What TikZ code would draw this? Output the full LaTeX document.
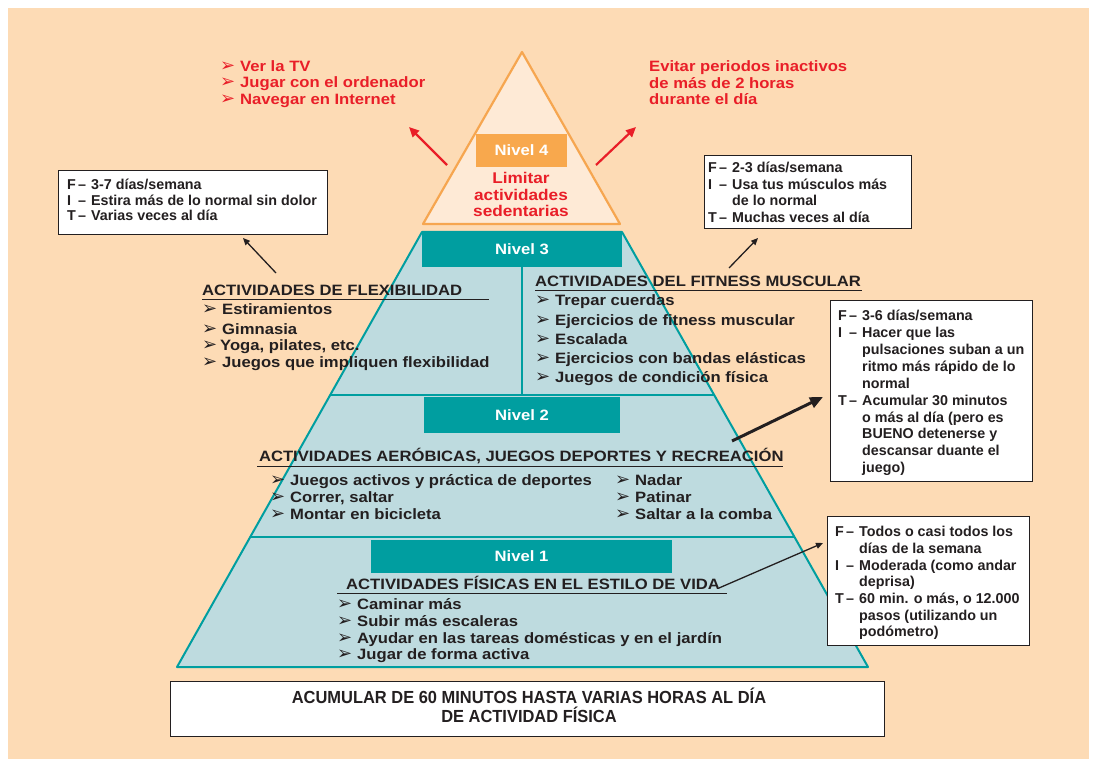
\documentclass[tikz,border=0pt]{standalone}
\usepackage{fontspec}
\setmainfont{Liberation Sans}
\newfontfamily\wideft[FakeStretch=1.11]{Liberation Sans}
\newfontfamily\narrowft[FakeStretch=0.94]{Liberation Sans}
\newfontfamily\symft{DejaVu Sans}
\usetikzlibrary{arrows.meta,calc}
\definecolor{bgpeach}{RGB}{253,219,181}
\definecolor{trifill}{RGB}{254,234,214}
\definecolor{triline}{RGB}{246,166,80}
\definecolor{orangebox}{RGB}{248,168,77}
\definecolor{redc}{RGB}{233,30,40}
\definecolor{tealc}{RGB}{0,158,160}
\definecolor{lblue}{RGB}{190,219,223}
\definecolor{ink}{RGB}{35,31,32}
\newcommand\bulglyph{{\symft\mdseries\fontsize{18}{18}\selectfont ➢}}
\newcommand\bul{\makebox[20pt][l]{\bulglyph}}
\newcommand\fitl[2]{\makebox[11pt][l]{#1}\makebox[13pt][l]{–}#2}
\newcommand\fitc[1]{\hspace*{24pt}#1}
\tikzset{
  lst/.style={anchor=base west, inner sep=0pt, text=ink, font=\wideft\bfseries\fontsize{15}{18}\selectfont},
  redt/.style={lst, text=redc},
  boxt/.style={anchor=base west, inner sep=0pt, text=ink, font=\bfseries\fontsize{14.3}{16}\selectfont},
  infobox/.style={draw=ink, line width=1.2pt, fill=white, inner sep=0pt, anchor=north west},
  nivel/.style={fill=tealc, text=white, inner sep=0pt, font=\wideft\bfseries\fontsize{15}{18}\selectfont},
  uline/.style={draw=ink, line width=0.9pt},
  redarrow/.style={draw=redc, line width=2.2pt, -{Triangle[length=10pt,width=9pt]}},
  blkarrow/.style={draw=ink, line width=1.3pt, -{Triangle[length=7pt,width=6pt]}},
  bigarrow/.style={draw=ink, line width=3pt, -{Triangle[length=13pt,width=11pt]}},
  bandline/.style={draw=tealc, line width=2pt}
}
\begin{document}
\begin{tikzpicture}[x=1pt,y=-1pt]
\useasboundingbox (0,0) rectangle (1097,767);
\fill[white] (0,0) rectangle (1097,767);
\fill[bgpeach] (8,8) rectangle (1089,759);

% ---------- top triangle (Nivel 4)
\coordinate (apex) at (522,52);
\coordinate (tbl) at (423,224);
\coordinate (tbr) at (620,224);
\draw[fill=trifill, draw=triline, line width=2.2pt, line join=round] (apex) -- (tbr) -- (tbl) -- cycle;
\node[fill=orangebox, text=white, inner sep=0pt, minimum width=91pt, minimum height=33pt,
      font=\wideft\bfseries\fontsize{15}{18}\selectfont] (n4) at (521.5,150.5) {Nivel 4};
\node[anchor=base, inner sep=0pt, text=redc, font=\wideft\bfseries\fontsize{15.5}{18}\selectfont] (lim1) at (521,184) {Limitar};
\node[anchor=base, inner sep=0pt, text=redc, font=\wideft\bfseries\fontsize{15.5}{18}\selectfont] (lim2) at (521,201) {actividades};
\node[anchor=base, inner sep=0pt, text=redc, font=\wideft\bfseries\fontsize{15.5}{18}\selectfont] (lim3) at (521,217) {sedentarias};

% red texts and arrows
\node[redt] (r1) at (220,71.5) {\bul Ver la TV};
\node[redt] (r2) at (220,88) {\bul Jugar con el ordenador};
\node[redt] (r3) at (220,104.5) {\bul Navegar en Internet};
\node[redt] (q1) at (649,72) {Evitar periodos inactivos};
\node[redt] (q2) at (649,88.5) {de más de 2 horas};
\node[redt] (q3) at (649,105) {durante el día};
\coordinate (ra1s) at (447,165);
\coordinate (ra1e) at (409,127);
\coordinate (ra2s) at (596,165);
\coordinate (ra2e) at (636,127);
\draw[redarrow] (ra1s) -- (ra1e);
\draw[redarrow] (ra2s) -- (ra2e);

% ---------- trapezoid
\coordinate (tl) at (422,232);
\coordinate (tr) at (622,232);
\coordinate (bl) at (177,667);
\coordinate (br) at (868,667);
\draw[fill=lblue, draw=tealc, line width=2pt, line join=round] (tl) -- (tr) -- (br) -- (bl) -- cycle;
\draw[bandline] ($(tl)!0.3747!(bl)$) -- ($(tr)!0.3747!(br)$);
\draw[bandline] ($(tl)!0.7011!(bl)$) -- ($(tr)!0.7011!(br)$);
\draw[bandline] (522,267) -- (522,395);

\node[nivel, minimum width=200pt, minimum height=35pt] (n3) at (522,249.5) {Nivel 3};
\node[nivel, minimum width=196pt, minimum height=36pt] (n2) at (522,415) {Nivel 2};
\node[nivel, minimum width=301pt, minimum height=33pt] (n1) at (521.5,556.5) {Nivel 1};

% Nivel 3 left
\node[lst] (h3a) at (202,295.5) {ACTIVIDADES DE FLEXIBILIDAD};
\draw[uline] (202,299.5) -- (489,299.5);
\node[lst] (fa1) at (202,314) {\bul Estiramientos};
\node[lst] (fa2) at (202,334) {\bul Gimnasia};
\node[lst] (fa3) at (202,350.5) {\makebox[18pt][l]{\bulglyph}Yoga, pilates, etc.};
\node[lst] (fa4) at (202,367) {\bul Juegos que impliquen flexibilidad};

% Nivel 3 right
\node[lst] (h3b) at (535,286.5) {ACTIVIDADES DEL FITNESS MUSCULAR};
\draw[uline] (535,290.5) -- (862,290.5);
\node[lst] (fb1) at (535,305.5) {\bul Trepar cuerdas};
\node[lst] (fb2) at (535,325) {\bul Ejercicios de fitness muscular};
\node[lst] (fb3) at (535,344) {\bul Escalada};
\node[lst] (fb4) at (535,363.3) {\bul Ejercicios con bandas elásticas};
\node[lst] (fb5) at (535,382.7) {\bul Juegos de condición física};

% Nivel 2
\node[lst] (h2) at (258.8,461) {ACTIVIDADES AERÓBICAS, JUEGOS DEPORTES Y RECREACIÓN};
\draw[uline] (257,466) -- (783,466);
\node[lst] (ea1) at (270,485.4) {\bul Juegos activos y práctica de deportes};
\node[lst] (ea2) at (270,502.3) {\bul Correr, saltar};
\node[lst] (ea3) at (270,519) {\bul Montar en bicicleta};
\node[lst] (eb1) at (615,485.4) {\bul Nadar};
\node[lst] (eb2) at (615,502.3) {\bul Patinar};
\node[lst] (eb3) at (615,519) {\bul Saltar a la comba};

% Nivel 1
\node[lst] (h1) at (346,589.3) {ACTIVIDADES FÍSICAS EN EL ESTILO DE VIDA};
\draw[uline] (337,593.3) -- (727,593.3);
\node[lst] (va1) at (337,609.3) {\bul Caminar más};
\node[lst] (va2) at (337,626) {\bul Subir más escaleras};
\node[lst] (va3) at (337,643.3) {\bul Ayudar en las tareas domésticas y en el jardín};
\node[lst] (va4) at (337,659.3) {\bul Jugar de forma activa};

% ---------- info boxes
\node[infobox, minimum width=269pt, minimum height=64pt] (box1) at (58,170) {};
\node[boxt] (b1l1) at (67,190) {\fitl{F}{3-7 días/semana}};
\node[boxt] (b1l2) at (67,205.5) {\fitl{I}{Estira más de lo normal sin dolor}};
\node[boxt] (b1l3) at (67,221) {\fitl{T}{Varias veces al día}};

\node[infobox, minimum width=207pt, minimum height=73pt] (box2) at (704,155) {};
\node[boxt] (b2l1) at (708,173) {\fitl{F}{2-3 días/semana}};
\node[boxt] (b2l2) at (708,189.5) {\fitl{I}{Usa tus músculos más}};
\node[boxt] (b2l3) at (708,206) {\fitc{de lo normal}};
\node[boxt] (b2l4) at (708,222.5) {\fitl{T}{Muchas veces al día}};

\node[infobox, minimum width=202pt, minimum height=181pt] (box3) at (830,300) {};
\node[boxt] (b3l1) at (838,320) {\fitl{F}{3-6 días/semana}};
\node[boxt] (b3l2) at (838,337) {\fitl{I}{Hacer que las}};
\node[boxt] (b3l3) at (838,354) {\fitc{pulsaciones suban a un}};
\node[boxt] (b3l4) at (838,371) {\fitc{ritmo más rápido de lo}};
\node[boxt] (b3l5) at (838,388) {\fitc{normal}};
\node[boxt] (b3l6) at (838,405) {\fitl{T}{Acumular 30 minutos}};
\node[boxt] (b3l7) at (838,422) {\fitc{o más al día (pero es}};
\node[boxt] (b3l8) at (838,438.5) {\fitc{BUENO detenerse y}};
\node[boxt] (b3l9) at (838,455) {\fitc{descansar duante el}};
\node[boxt] (b3l10) at (838,472) {\fitc{juego)}};

\node[infobox, minimum width=202pt, minimum height=129pt] (box4) at (827,516) {};
\node[boxt] (b4l1) at (835,536.7) {\fitl{F}{Todos o casi todos los}};
\node[boxt] (b4l2) at (835,553.3) {\fitc{días de la semana}};
\node[boxt] (b4l3) at (835,570) {\fitl{I}{Moderada (como andar}};
\node[boxt] (b4l4) at (835,586.7) {\fitc{deprisa)}};
\node[boxt] (b4l5) at (835,603.3) {\fitl{T}{60 min. o más, o 12.000}};
\node[boxt] (b4l6) at (835,620) {\fitc{pasos (utilizando un}};
\node[boxt] (b4l7) at (835,636.7) {\fitc{podómetro)}};

% connectors
\coordinate (a1s) at (276,273);
\coordinate (a1e) at (243,238);
\coordinate (a2s) at (729,268);
\coordinate (a2e) at (758,238);
\coordinate (a3s) at (732,441);
\coordinate (a3e) at (823,397);
\coordinate (a4s) at (719,588);
\coordinate (a4e) at (823,543);
\draw[blkarrow] (a1s) -- (a1e);
\draw[blkarrow] (a2s) -- (a2e);
\draw[bigarrow] (a3s) -- (a3e);
\draw[blkarrow] (a4s) -- (a4e);

% ---------- bottom box
\node[infobox, minimum width=714pt, minimum height=55pt] (bbox) at (170,681) {};
\node[anchor=base, inner sep=0pt, text=ink, font=\narrowft\bfseries\fontsize{17.5}{20}\selectfont] (bt1) at (529,703) {ACUMULAR DE 60 MINUTOS HASTA VARIAS HORAS AL DÍA};
\node[anchor=base, inner sep=0pt, text=ink, font=\narrowft\bfseries\fontsize{17.5}{20}\selectfont] (bt2) at (529,722) {DE ACTIVIDAD FÍSICA};
\end{tikzpicture}
\end{document}
